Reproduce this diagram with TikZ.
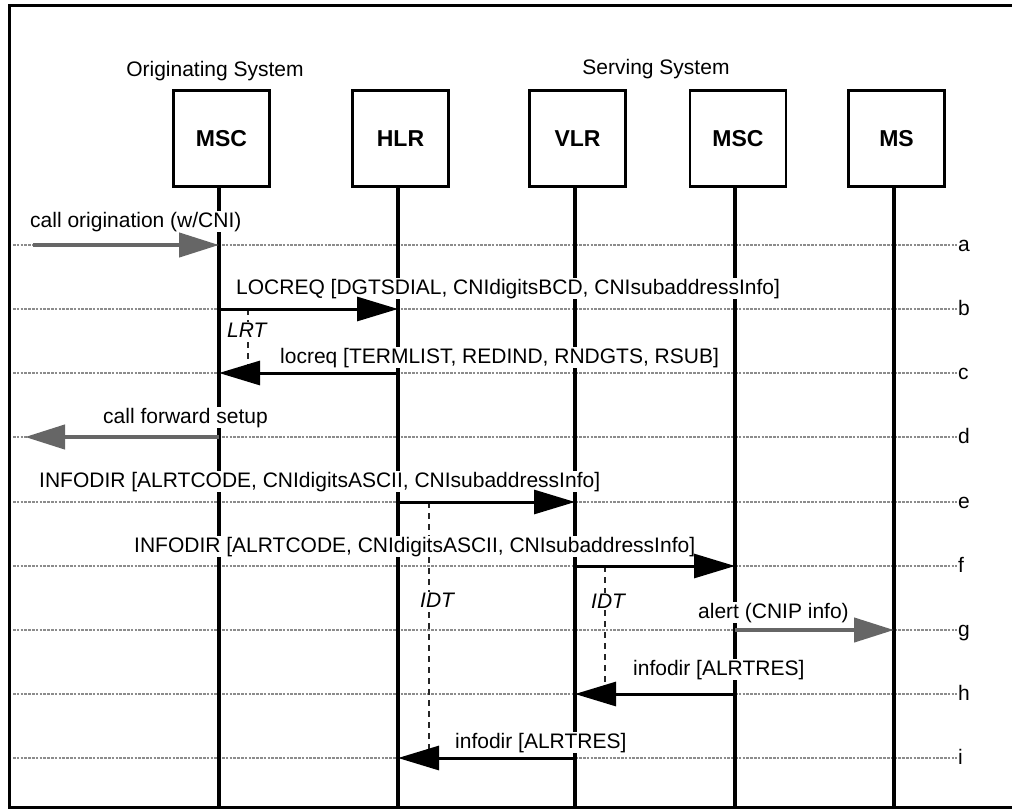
\documentclass[tikz,border=0pt]{standalone}
\usepackage{fontspec}
\setmainfont{Liberation Sans}
\usetikzlibrary{arrows.meta}
\definecolor{guidegray}{gray}{0.55}
\definecolor{extgray}{gray}{0.4}
\begin{document}
\begin{tikzpicture}[x=1pt,y=-1pt,
  entity/.style={draw,line width=2.6pt,minimum width=96pt,minimum height=96pt,inner sep=0pt,
                 font=\fontsize{23}{27}\selectfont\bfseries},
  life/.style={line width=3.2pt},
  guide/.style={draw=guidegray,line width=2.2pt,dash pattern=on 2.6pt off 1.2pt},
  msg/.style={line width=3pt,-{Triangle[length=41pt,width=24pt]}},
  extmsg/.style={draw=extgray,fill=extgray,line width=4.4pt,-{Triangle[length=40pt,width=24pt]}},
  lbl/.style={fill=white,inner sep=1pt,anchor=base west,font=\fontsize{21}{25}\selectfont},
  sys/.style={anchor=base,inner sep=0pt,font=\fontsize{21}{25}\selectfont},
  rowtag/.style={anchor=base west,inner sep=0pt,font=\fontsize{21}{25}\selectfont},
  timer/.style={draw=black!85,line width=1.3pt,dash pattern=on 6pt off 5pt},
  tlbl/.style={fill=white,inner sep=1pt,anchor=base west,font=\fontsize{21}{25}\selectfont\itshape},
]
\useasboundingbox (0,0) rectangle (1012,809);

% outer frame (open on the right)
\draw[line width=3pt] (1016,5.5) -- (9.5,5.5) -- (9.5,807.5) -- (1016,807.5);

% lifeline positions, rows and bottom
\coordinate (L1) at (219,0);
\coordinate (L2) at (398,0);
\coordinate (L3) at (575,0);
\coordinate (L4) at (735,0);
\coordinate (L5) at (894,0);
\coordinate (bot) at (0,807.5);

% time rows with their tags
\foreach \n/\y in {a/245,b/309,c/373,d/437,e/502,f/566,g/630,h/694,i/758}{
  \coordinate (r\n) at (0,\y);
  \coordinate (g\n-l) at (13,\y);
  \coordinate (g\n-r) at (957,\y);
  \draw[guide] (g\n-l) -- (g\n-r);
  \node[rowtag] (tag\n) at (958,\y+6) {\n};
}

% system headings
\node[sys] (orig) at (215,76) {Originating System};
\node[sys] (serv) at (656,74) {Serving System};

% network entities
\node[entity] (msc1) at (221.5,138.5) {MSC};
\node[entity] (hlr)  at (400.5,138.5) {HLR};
\node[entity] (vlr)  at (577.5,138.5) {VLR};
\node[entity] (msc2) at (738,138.5) {MSC};
\node[entity] (ms)   at (896.5,138.5) {MS};

% lifelines
\draw[life] (L1 |- msc1.south) -- (L1 |- bot);
\draw[life] (L2 |- hlr.south) -- (L2 |- bot);
\draw[life] (L3 |- vlr.south) -- (L3 |- bot);
\draw[life] (L4 |- msc2.south) -- (L4 |- bot);
\draw[life] (L5 |- ms.south) -- (L5 |- bot);

% timers
\coordinate (T1) at (248,0);
\coordinate (T2) at (429,0);
\coordinate (T3) at (605,0);
\draw[timer] (T1 |- rb) -- (T1 |- rc);
\draw[timer] (T2 |- re) -- (T2 |- ri);
\draw[timer] (T3 |- rf) -- (T3 |- rh);

% message labels
\node[lbl] (la) at (29,227) {call origination (w/CNI)};
\node[lbl] (lb) at (235,294) {LOCREQ [DGTSDIAL, CNIdigitsBCD, CNIsubaddressInfo]};
\node[lbl] (lc) at (279,363) {locreq [TERMLIST, REDIND, RNDGTS, RSUB]};
\node[lbl] (ld) at (102,423) {call forward setup};
\node[lbl] (le) at (38,487) {INFODIR [ALRTCODE, CNIdigitsASCII, CNIsubaddressInfo]};
\node[lbl] (lf) at (133,552) {INFODIR [ALRTCODE, CNIdigitsASCII, CNIsubaddressInfo]};
\node[lbl] (lg) at (697,618) {alert (CNIP info)};
\node[lbl] (lh) at (632,675) {infodir [ALRTRES]};
\node[lbl] (li) at (454,748) {infodir [ALRTRES]};

% timer labels
\node[tlbl] (lrt)  at (226,337) {LRT};
\node[tlbl] (idt1) at (419,607) {IDT};
\node[tlbl] (idt2) at (590,608) {IDT};

% messages
\coordinate (srcA) at (33,245);
\coordinate (dstD) at (25,437);
\draw[extmsg] (srcA) -- (L1 |- ra);
\draw[msg] (L1 |- rb) -- (L2 |- rb);
\draw[msg] (L2 |- rc) -- (L1 |- rc);
\draw[extmsg] (L1 |- rd) -- (dstD);
\draw[msg] (L2 |- re) -- (L3 |- re);
\draw[msg] (L3 |- rf) -- (L4 |- rf);
\draw[extmsg] (L4 |- rg) -- (L5 |- rg);
\draw[msg] (L4 |- rh) -- (L3 |- rh);
\draw[msg] (L3 |- ri) -- (L2 |- ri);
\end{tikzpicture}
\end{document}
